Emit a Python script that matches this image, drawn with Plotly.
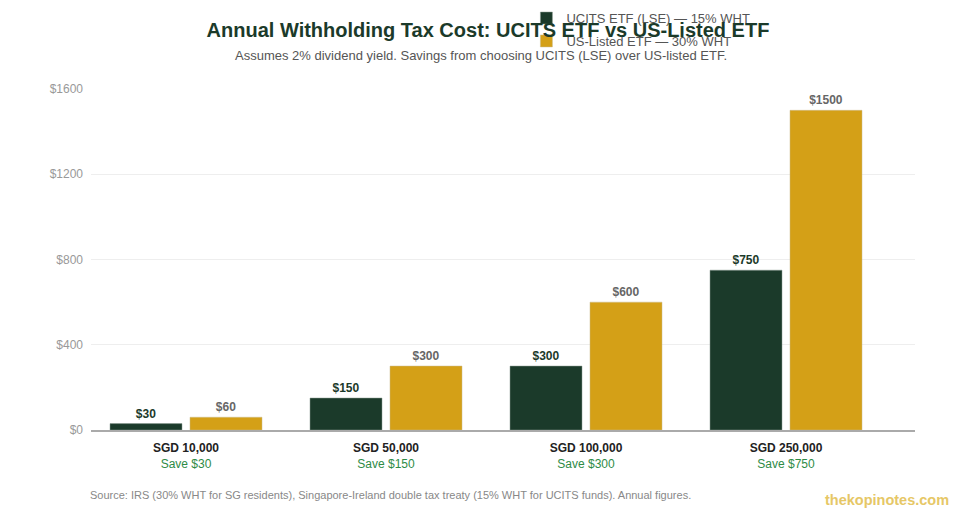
import plotly.graph_objects as go

# ---- data ----
portfolios = ["SGD 10,000", "SGD 50,000", "SGD 100,000", "SGD 250,000"]
ucits_cost = [30, 150, 300, 750]
us_cost = [60, 300, 600, 1500]
savings = [30, 150, 300, 750]
y_ticks = [0, 400, 800, 1200, 1600]

GREEN = "#1b3a2a"
GOLD = "#d4a017"
FONT = "Liberation Sans, Arial, sans-serif"

xs = list(range(len(portfolios)))
tick_text = [
    f"<b>{p}</b><br><span style='color:#2e8b46'>Save ${s}</span>"
    for p, s in zip(portfolios, savings)
]

fig = go.Figure()
fig.add_trace(go.Bar(
    x=xs, y=ucits_cost, name="UCITS ETF (LSE) — 15% WHT", legendgroup="ucits",
    marker=dict(color=GREEN, line=dict(color="#8a9a90", width=0.5)),
    text=[f"<b>${v}</b>" for v in ucits_cost], textposition="outside",
    textfont=dict(color=GREEN, size=12), cliponaxis=False,
))
fig.add_trace(go.Bar(
    x=xs, y=us_cost, name="US-Listed ETF — 30% WHT", legendgroup="us",
    marker=dict(color=GOLD, line=dict(color="#c9b98a", width=0.5)),
    text=[f"<b>${v}</b>" for v in us_cost], textposition="outside",
    textfont=dict(color="#666666", size=12), cliponaxis=False,
))

fig.update_layout(
    width=960, height=520,
    margin=dict(l=83, r=53, t=81, b=98, autoexpand=False),
    paper_bgcolor="white", plot_bgcolor="white",
    font=dict(family=FONT, color="#555555"),
    barmode="group", bargap=0.2, bargroupgap=0.1,
    title=dict(
        text="<b>Annual Withholding Tax Cost: UCITS ETF vs US-Listed ETF</b>",
        x=0.5, xanchor="center", y=0.957, yanchor="middle",
        font=dict(size=20, color=GREEN),
    ),
    legend=dict(
        x=0.54, y=1.252, xref="container", yref="paper",
        xanchor="left", yanchor="top",
        font=dict(size=13, color="#555555"), bgcolor="rgba(0,0,0,0)",
        tracegroupgap=3, itemwidth=30,
    ),
)

fig.update_xaxes(
    tickvals=xs, ticktext=tick_text, range=[-0.475, 3.645],
    showgrid=False, showline=True, linecolor="#aaaaaa", linewidth=2,
    ticks="", tickfont=dict(size=12, color="#222222"), ticklabelstandoff=6,
)
fig.update_yaxes(
    range=[0, 1600], tickvals=y_ticks, ticktext=[f"${v}" for v in y_ticks],
    showgrid=True, gridcolor="#eeeeee", gridwidth=1, zeroline=False,
    tickfont=dict(size=12, color="#999999"), ticks="", ticklabelstandoff=7,
)

fig.add_annotation(
    text="Assumes 2% dividend yield. Savings from choosing UCITS (LSE) over US-listed ETF.",
    xref="paper", yref="paper", x=0.476, y=1.0, xshift=-2, yshift=34,
    xanchor="center", yanchor="middle", showarrow=False,
    font=dict(size=13, color="#555555"),
)
fig.add_annotation(
    text="Source: IRS (30% WHT for SG residents), Singapore-Ireland double tax treaty (15% WHT for UCITS funds). Annual figures.",
    xref="paper", yref="paper", x=0.0, y=0.0, xshift=-3, yshift=-65,
    xanchor="left", yanchor="middle", showarrow=False,
    font=dict(size=11, color="#888888"),
)
fig.add_annotation(
    text="<b>thekopinotes.com</b>",
    xref="paper", yref="paper", x=1.0, y=0.0, xshift=36, yshift=-70,
    xanchor="right", yanchor="middle", showarrow=False,
    font=dict(size=14.5, color="#e6c766"),
)

fig.write_html("out.html")
